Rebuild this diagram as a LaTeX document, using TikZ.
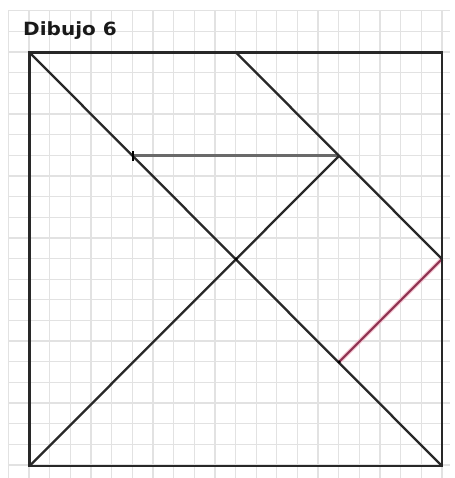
\documentclass[tikz,border=0pt]{standalone}
\usepackage{fontspec}
\newfontfamily\titlefont{DejaVu Sans}
\definecolor{gridc}{RGB}{226,226,226}
\definecolor{linec}{RGB}{40,40,40}
\definecolor{grayc}{RGB}{105,105,105}
\definecolor{pinkc}{RGB}{140,50,80}
\definecolor{pinkhalo}{RGB}{240,185,200}
\begin{document}
\begin{tikzpicture}[x=1pt,y=-1pt,
  gridline/.style={draw=gridc,line width=1.3pt},
  figline/.style={draw=linec,line width=2.3pt},
  grayline/.style={draw=grayc,line width=3pt},
  pinkline/.style={draw=pinkc,line width=1.8pt},
  dotmark/.style={fill=black,circle,inner sep=0pt,minimum size=3.5pt}]
\useasboundingbox (0,0) rectangle (454,478);
\fill[white] (0,0) rectangle (454,478);
% grid
\foreach \k in {-1,...,20} {
  \draw[gridline] ({29+20.65*\k},10.7) -- ({29+20.65*\k},478);
}
\foreach \k in {-2,...,20} {
  \draw[gridline] (8.35,{52+20.65*\k}) -- (450,{52+20.65*\k});
}
% title
\node[anchor=base west,inner sep=0pt,font=\titlefont\bfseries\fontsize{18.2}{20}\selectfont,xscale=1.1,text=black!90] (title) at (23,35.5) {Dibujo 6};
% key points
\coordinate (TL) at (29.5,52.5);
\coordinate (TR) at (442,52.5);
\coordinate (BR) at (442,466);
\coordinate (BL) at (29.5,466);
\coordinate (TM) at (236,52.5);
\coordinate (RM) at (442,259);
\coordinate (P5) at (132.5,156);
\coordinate (Q) at (339,156);
\coordinate (C) at (236,259);
\coordinate (P15) at (339,362);
% shapes
\draw[grayline] (P5) -- (Q);
\draw[draw=pinkhalo,line width=4pt] (P15) -- (RM);
\draw[pinkline] (P15) -- (RM);
\draw[figline,line join=miter] (TL) -- (TR) -- (BR) -- (BL) -- cycle;
\draw[figline] (TL) -- (BR);
\draw[figline] (TM) -- (RM);
\draw[figline] (BL) -- (Q);
\draw[line width=2pt,draw=black] ([yshift=-5]P5) -- ([yshift=5]P5);
\node[dotmark] (dc) at (C) {};
\node[dotmark] (d15) at (P15) {};
\end{tikzpicture}
\end{document}
